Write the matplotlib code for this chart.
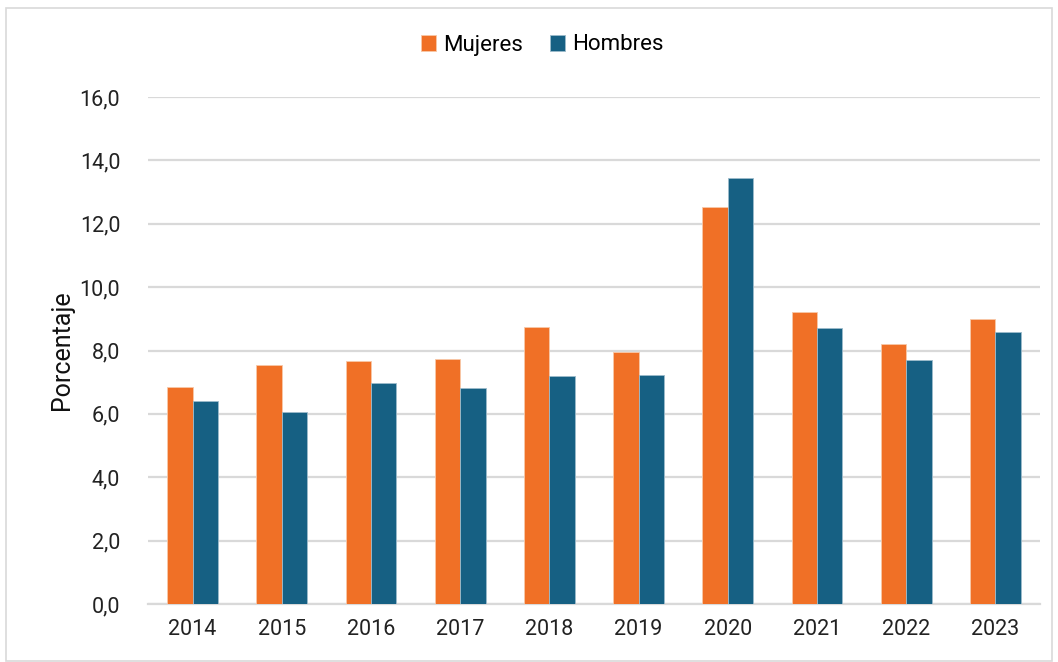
import numpy as np
import matplotlib.pyplot as plt
from matplotlib.patches import Rectangle

# Datos (porcentaje)
years = ['2014', '2015', '2016', '2017', '2018', '2019', '2020', '2021', '2022', '2023']
mujeres = [6.86, 7.54, 7.67, 7.74, 8.74, 7.95, 12.53, 9.22, 8.21, 9.00]
hombres = [6.41, 6.07, 6.97, 6.82, 7.20, 7.23, 13.45, 8.72, 7.71, 8.58]
yticks = [0, 2, 4, 6, 8, 10, 12, 14, 16]

c_muj = '#F07026'
c_hom = '#166083'

plt.rcParams['font.family'] = ['Roboto', 'DejaVu Sans']

fig = plt.figure(figsize=(10.58, 6.62), dpi=100)
ax = fig.add_axes([148 / 1058, 1 - 604 / 662, 892 / 1058, 507 / 662])

x = np.arange(len(years))
w = 0.285
ax.bar(x - w / 2, mujeres, w, color=c_muj, edgecolor='#F8C8A8', linewidth=0.6, label='Mujeres', zorder=3)
ax.bar(x + w / 2, hombres, w, color=c_hom, edgecolor='#9DBBCB', linewidth=0.6, label='Hombres', zorder=3)

ax.set_xlim(-0.5, len(years) - 0.5)
ax.set_ylim(0, 16)
ax.set_yticks(yticks)
ax.set_yticklabels([f'{v:.1f}'.replace('.', ',') for v in yticks], fontsize=15.5, color='#222222')
ax.set_xticks(x)
ax.set_xticklabels(years, fontsize=15.5, color='#222222')
ax.tick_params(axis='both', length=0)
ax.tick_params(axis='y', pad=20)
ax.tick_params(axis='x', pad=11)
ax.grid(axis='y', color='#D9D9D9', linewidth=1.6, zorder=0)
for s in ['top', 'right', 'left']:
    ax.spines[s].set_visible(False)
ax.spines['bottom'].set_color('#D9D9D9')
ax.spines['bottom'].set_linewidth(1.6)

ax.set_ylabel('Porcentaje', fontsize=18, color='#111111', labelpad=4)

fig.legend(loc='center', bbox_to_anchor=(542 / 1058, 1 - 45 / 662), ncol=2, frameon=False,
           fontsize=16, handlelength=0.7, handleheight=0.7, handletextpad=0.3, columnspacing=1.2)

# marco exterior
fig.patches.append(Rectangle((6 / 1058, 0.002), 1046 / 1058, 1 - 8 / 662 - 0.002, transform=fig.transFigure,
                             fill=False, edgecolor='#D9D9D9', linewidth=1.2))

fig.savefig('out.png', dpi=100)
